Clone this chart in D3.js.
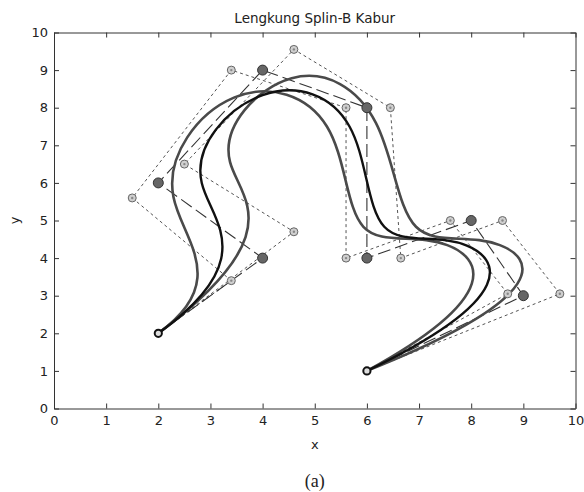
<!DOCTYPE html>
<html>
<head>
<meta charset="utf-8">
<script src="https://cdn.jsdelivr.net/npm/d3@7"></script>
<style>
  body { margin: 0; background: #fff; }
  text { font-family: "DejaVu Sans", "Liberation Sans", Arial, sans-serif; fill: #222; }
</style>
</head>
<body>
<div id="chart"></div>
<script>
// control points of the fuzzy B-spline (middle, left and right)
var midPts   = [[2,2],[4,4],[2,6],[4,9],[6,8],[6,4],[8,5],[9,3],[6,1]];
var leftPts  = [[2,2],[3.4,3.4],[1.5,5.6],[3.4,9],[5.6,8],[5.6,4],[7.6,5],[8.7,3.05],[6,1]];
var rightPts = [[2,2],[4.6,4.7],[2.5,6.5],[4.6,9.55],[6.45,8],[6.65,4],[8.6,5],[9.7,3.05],[6,1]];
var tickVals = [0,1,2,3,4,5,6,7,8,9,10];
var titleText = "Lengkung Splin-B Kabur";

var W = 584, H = 492;
var margin = {top: 32.5, right: 8.5, bottom: 83.5, left: 54};
var width = W - margin.left - margin.right;
var height = H - margin.top - margin.bottom;

var svg = d3.select("#chart").append("svg")
  .attr("width", W).attr("height", H);
var g = svg.append("g")
  .attr("transform", "translate(" + margin.left + "," + margin.top + ")");

var x = d3.scaleLinear().domain([0, 10]).range([0, width]);
var y = d3.scaleLinear().domain([0, 10]).range([height, 0]);

// axes, ticks pointing inward like matlab
function styleAxis(sel) {
  sel.select(".domain").attr("stroke", "#333").attr("stroke-width", 1);
  sel.selectAll(".tick line").attr("stroke", "#333");
  sel.selectAll("text").style("font-size", "13px").attr("fill", "#222");
}
g.append("g").attr("transform", "translate(0," + height + ")")
  .call(d3.axisBottom(x).tickValues(tickVals).tickSizeInner(-5).tickSizeOuter(0).tickPadding(7))
  .call(styleAxis);
g.append("g")
  .call(d3.axisLeft(y).tickValues(tickVals).tickSizeInner(-5).tickSizeOuter(0).tickPadding(6))
  .call(styleAxis);
g.append("g")
  .call(d3.axisTop(x).tickValues(tickVals).tickSizeInner(-5).tickSizeOuter(0).tickFormat(""))
  .call(styleAxis);
g.append("g").attr("transform", "translate(" + width + ",0)")
  .call(d3.axisRight(y).tickValues(tickVals).tickSizeInner(-5).tickSizeOuter(0).tickFormat(""))
  .call(styleAxis);

var poly = d3.line().x(function(d){ return x(d[0]); }).y(function(d){ return y(d[1]); });

// clamped uniform cubic B-spline, drawn as bezier pieces (blossoming)
function bspline(pts) {
  var n = pts.length, knots = [0, 0, 0];
  for (var i = 0; i <= n - 3; i++) knots.push(i);
  knots.push(n - 3, n - 3, n - 3);
  var P = pts.map(function(d){ return [x(d[0]), y(d[1])]; });
  function f(s, us) {
    var d = [P[s-3], P[s-2], P[s-1], P[s]].map(function(p){ return p.slice(); });
    for (var r = 1; r <= 3; r++) {
      for (var j = 3; j >= r; j--) {
        var k = s - 3 + j;
        var a = (us[r-1] - knots[k]) / (knots[k + 4 - r] - knots[k]);
        d[j] = [(1 - a) * d[j-1][0] + a * d[j][0], (1 - a) * d[j-1][1] + a * d[j][1]];
      }
    }
    return d[3];
  }
  var path = d3.path();
  for (var s = 3; s < n; s++) {
    var a = knots[s], b = knots[s + 1];
    if (s === 3) { var p0 = f(s, [a, a, a]); path.moveTo(p0[0], p0[1]); }
    var c1 = f(s, [a, a, b]), c2 = f(s, [a, b, b]), e = f(s, [b, b, b]);
    path.bezierCurveTo(c1[0], c1[1], c2[0], c2[1], e[0], e[1]);
  }
  return path.toString();
}

// fuzzy control polygons
[leftPts, rightPts].forEach(function(p){
  g.append("path").attr("d", poly(p))
    .attr("fill", "none").attr("stroke", "#555").attr("stroke-width", 1)
    .attr("stroke-dasharray", "3,3");
});
// middle control polygon
g.append("path").attr("d", poly(midPts))
  .attr("fill", "none").attr("stroke", "#333").attr("stroke-width", 1.1)
  .attr("stroke-dasharray", "13,5");

// curves
g.append("path").attr("d", bspline(leftPts))
  .attr("fill", "none").attr("stroke", "#4a4a4a").attr("stroke-width", 2.6);
g.append("path").attr("d", bspline(rightPts))
  .attr("fill", "none").attr("stroke", "#4a4a4a").attr("stroke-width", 2.6);
g.append("path").attr("d", bspline(midPts))
  .attr("fill", "none").attr("stroke", "#111").attr("stroke-width", 2.4);

// fuzzy points
var fuzzy = leftPts.slice(1, -1).concat(rightPts.slice(1, -1));
g.selectAll(".fz").data(fuzzy).enter().append("circle")
  .attr("cx", function(d){ return x(d[0]); })
  .attr("cy", function(d){ return y(d[1]); })
  .attr("r", 4).attr("fill", "#cfcfcf").attr("stroke", "#666").attr("stroke-width", 1);
g.selectAll(".fzc").data(fuzzy).enter().append("circle")
  .attr("cx", function(d){ return x(d[0]); })
  .attr("cy", function(d){ return y(d[1]); })
  .attr("r", 1.2).attr("fill", "#888");

// middle control points
g.selectAll(".cp").data(midPts.slice(1, -1)).enter().append("circle")
  .attr("cx", function(d){ return x(d[0]); })
  .attr("cy", function(d){ return y(d[1]); })
  .attr("r", 5).attr("fill", "#666").attr("stroke", "#333").attr("stroke-width", 1);

// end points
g.selectAll(".ep").data([midPts[0], midPts[midPts.length - 1]]).enter().append("circle")
  .attr("cx", function(d){ return x(d[0]); })
  .attr("cy", function(d){ return y(d[1]); })
  .attr("r", 3.6).attr("fill", "#ddd").attr("stroke", "#111").attr("stroke-width", 2);

// labels
svg.append("text").attr("x", margin.left + width / 2).attr("y", 23)
  .attr("text-anchor", "middle").style("font-size", "13.5px").text(titleText);
svg.append("text").attr("x", margin.left + width / 2).attr("y", 449)
  .attr("text-anchor", "middle").style("font-size", "13px").text("x");
svg.append("text").attr("transform", "translate(19," + (margin.top + height / 2) + ") rotate(-90)")
  .attr("text-anchor", "middle").style("font-size", "13px").text("y");
svg.append("text").attr("x", margin.left + width / 2).attr("y", 487)
  .attr("text-anchor", "middle")
  .style("font-family", "'Liberation Serif', 'Times New Roman', serif")
  .style("font-size", "18px").text("(a)");
</script>
</body>
</html>
